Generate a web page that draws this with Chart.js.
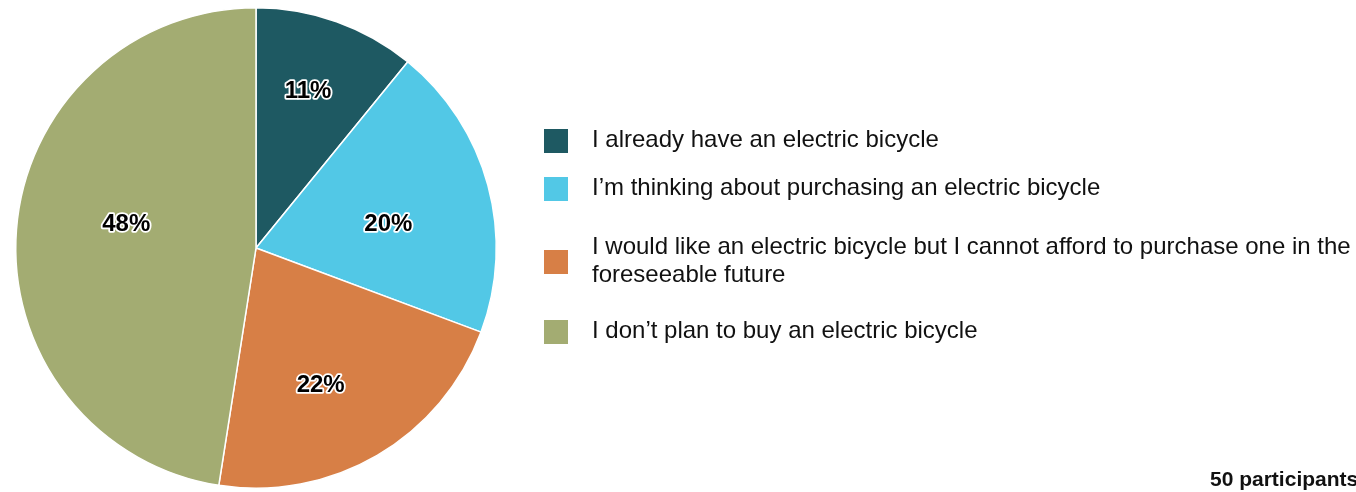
<!DOCTYPE html>
<html lang="en">
<head>
  <meta charset="UTF-8">
  <title>Electric bicycle ownership</title>
  <style>
    body {
      margin: 0;
      background: #fff;
      font-family: "Liberation Sans", Arial, sans-serif;
    }
    .wrap {
      position: relative;
      width: 1356px;
      height: 492px;
      overflow: hidden;
    }
    #pie {
      position: absolute;
      left: 0;
      top: 0;
    }
    .legend {
      position: absolute;
      left: 544px;
      top: 0;
    }
    .legend .box {
      position: absolute;
      left: 0;
      width: 24px;
      height: 24px;
    }
    .legend .txt {
      position: absolute;
      left: 48px;
      width: 800px;
      font-size: 24px;
      line-height: 28px;
      color: #111;
    }
    .note {
      position: absolute;
      left: 1210px;
      top: 467px;
      font-size: 21px;
      font-weight: bold;
      color: #111;
      white-space: nowrap;
    }
  </style>
</head>
<body>
  <div class="wrap">
    <canvas id="pie" width="1356" height="492"></canvas>
    <div class="legend" id="legend"></div>
    <div class="note">50 participants</div>
  </div>

  <script src="https://cdn.jsdelivr.net/npm/chart.js"></script>
  <script>
    // Survey answers (percent of participants)
    const categories = [
      'I already have an electric bicycle',
      'I\u2019m thinking about purchasing an electric bicycle',
      'I would like an electric bicycle but I cannot afford to purchase one in the foreseeable future',
      'I don\u2019t plan to buy an electric bicycle'
    ];
    const shares = [11, 20, 22, 48];
    const colors = ['#1e5962', '#52c8e6', '#d77f46', '#a3ac72'];

    // where each percentage sits inside its slice
    const labelRadius = [0.69, 0.56, 0.63, 0.55];
    const labelShift = [-1.3, 4.8, 5, 6.4]; // degrees

    // white-outlined percentage labels
    const sliceLabels = {
      id: 'sliceLabels',
      afterDatasetsDraw(chart) {
        const ctx = chart.ctx;
        const meta = chart.getDatasetMeta(0);
        ctx.save();
        ctx.font = 'bold 24px "Liberation Sans", Arial, sans-serif';
        ctx.textAlign = 'center';
        ctx.textBaseline = 'middle';
        ctx.lineJoin = 'round';
        meta.data.forEach((arc, i) => {
          const p = arc.getProps(['x', 'y', 'startAngle', 'endAngle', 'outerRadius']);
          const mid = (p.startAngle + p.endAngle) / 2 + labelShift[i] * Math.PI / 180;
          const r = p.outerRadius * labelRadius[i];
          const x = p.x + Math.cos(mid) * r;
          const y = p.y + Math.sin(mid) * r + 1;
          const text = shares[i] + '%';
          ctx.strokeStyle = '#fff';
          ctx.lineWidth = 3.5;
          ctx.strokeText(text, x, y);
          ctx.fillStyle = '#000';
          ctx.fillText(text, x, y);
        });
        ctx.restore();
      }
    };

    new Chart(document.getElementById('pie'), {
      type: 'pie',
      data: {
        labels: categories,
        datasets: [{
          data: shares,
          backgroundColor: colors,
          borderColor: '#fff',
          borderWidth: 1.5
        }]
      },
      options: {
        responsive: false,
        animation: false,
        layout: { padding: { left: 15, right: 859, top: 7, bottom: 3 } },
        plugins: {
          legend: { display: false },
          tooltip: { enabled: false }
        }
      },
      plugins: [sliceLabels]
    });

    // legend on the right
    const textTops = [125, 173, 232, 316];
    const boxTops = [129, 177, 250, 320];
    const legend = document.getElementById('legend');
    categories.forEach((name, i) => {
      const box = document.createElement('div');
      box.className = 'box';
      box.style.top = boxTops[i] + 'px';
      box.style.background = colors[i];
      const txt = document.createElement('div');
      txt.className = 'txt';
      txt.style.top = textTops[i] + 'px';
      txt.textContent = name;
      legend.appendChild(box);
      legend.appendChild(txt);
    });
  </script>
</body>
</html>
